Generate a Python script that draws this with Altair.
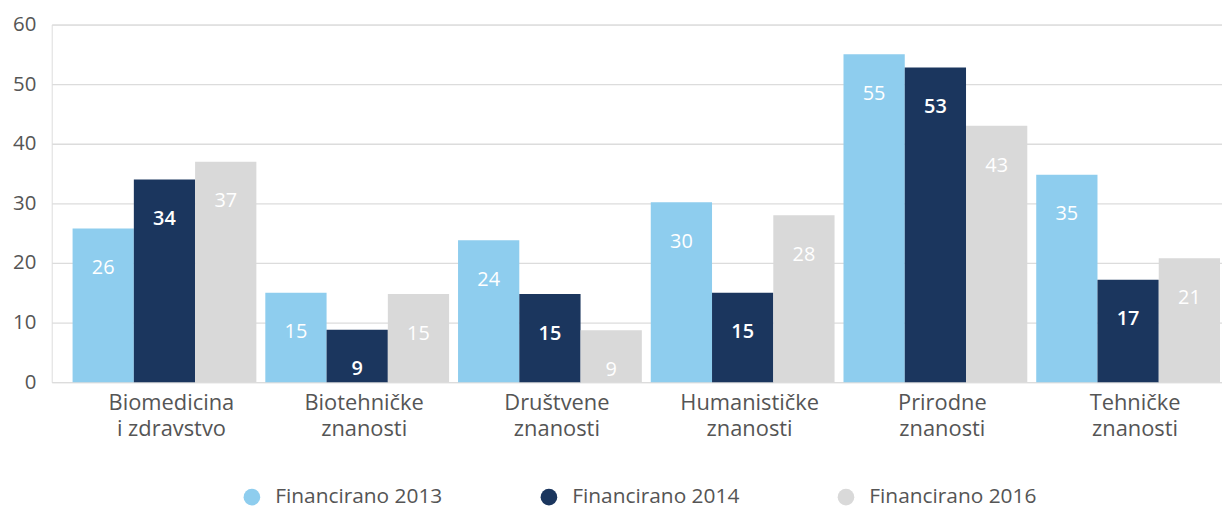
import altair as alt
import pandas as pd

categories = ["Biomedicina i zdravstvo", "Biotehničke znanosti", "Društvene znanosti",
              "Humanističke znanosti", "Prirodne znanosti", "Tehničke znanosti"]
series = ["Financirano 2013", "Financirano 2014", "Financirano 2016"]
values_2013 = [25.8, 15.0, 23.8, 30.2, 55.0, 34.8]
values_2014 = [34.0, 8.8, 14.8, 15.0, 52.8, 17.2]
values_2016 = [37.0, 14.8, 8.7, 28.0, 43.0, 20.8]
colors = ["#8ECDEE", "#1B365E", "#D9D9D9"]

rows = []
for s, vals in zip(series, [values_2013, values_2014, values_2016]):
    for c, v in zip(categories, vals):
        rows.append({"category": c, "series": s, "value": v})
df = pd.DataFrame(rows)

FONT = "Open Sans"

x = alt.X("category:N", sort=categories, title=None,
          scale=alt.Scale(paddingInner=0.0464, paddingOuter=0.0593, align=0.913),
          axis=alt.Axis(labelAngle=0, ticks=False, domain=False, labelFontSize=22,
                        labelColor="#555555", labelFont=FONT, labelPadding=11,
                        labelLineHeight=26, labelBaseline="top", labelOffset=7,
                        labelExpr="[substring(datum.label, 0, indexof(datum.label, ' ')), substring(datum.label, indexof(datum.label, ' ') + 1)]"))
xo = alt.XOffset("series:N", sort=series, scale=alt.Scale(paddingInner=0, paddingOuter=0))
y = alt.Y("value:Q", title=None,
          scale=alt.Scale(domain=[0, 60], nice=False),
          axis=alt.Axis(values=[0, 10, 20, 30, 40, 50, 60], ticks=False, domain=False,
                        labelFontSize=20.5, labelColor="#555555", labelFont=FONT,
                        labelPadding=16, gridColor="#DCDCDC", gridWidth=1.3))

base = alt.Chart(df)

bars = base.mark_bar().encode(
    x=x, xOffset=xo, y=y,
    color=alt.Color("series:N", sort=series,
                    scale=alt.Scale(domain=series, range=colors),
                    legend=alt.Legend(title=None, orient="none", direction="horizontal",
                                      legendX=191, legendY=465,
                                      symbolType="circle", symbolSize=280,
                                      symbolStrokeWidth=0, labelFontSize=21,
                                      labelFont=FONT, labelColor="#555555",
                                      labelLimit=0,
                                      labelOffset=13, columnPadding=96)),
)

labels_light = base.transform_filter(alt.datum.series != "Financirano 2014").mark_text(
    baseline="middle", dy=40, fontSize=20, font=FONT, color="white"
).encode(x=x, xOffset=xo, y=y, text=alt.Text("value:Q", format=".0f"))

labels_dark = base.transform_filter(alt.datum.series == "Financirano 2014").mark_text(
    baseline="middle", dy=40, fontSize=20, font=FONT, color="white", fontWeight=600
).encode(x=x, xOffset=xo, y=y, text=alt.Text("value:Q", format=".0f"))

chart = alt.layer(bars, labels_light, labels_dark).properties(
    width=1178, height=360,
    autosize=alt.AutoSizeParams(type="none"),
    padding={"left": 44, "top": 15, "right": 0, "bottom": 123},
).configure_view(stroke=None).configure(font=FONT)

chart.save("out.html", embed_options={"renderer": "svg", "actions": False})
